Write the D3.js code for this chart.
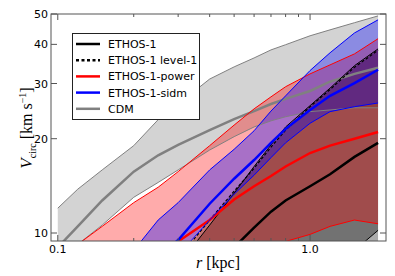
<!DOCTYPE html>
<html>
<head>
<meta charset="utf-8">
<script src="https://cdn.jsdelivr.net/npm/d3@7"></script>
<style>
  body { margin: 0; background: #fff; }
  text { font-family: "DejaVu Sans", sans-serif; }
</style>
</head>
<body>
<svg width="395" height="276"></svg>
<script>
var width = 395;
var height = 276;

// radii (kpc) at which every curve was read
var radius = [0.1, 0.12, 0.15, 0.2, 0.25, 0.3, 0.4, 0.5, 0.6, 0.7, 0.8, 1.0, 1.2, 1.5, 1.86];

// V_circ (km/s): band upper edge, median, band lower edge
var cdmHigh = [12.0, 13.8, 15.9, 19.0, 23.0, 25.8, 31.0, 33.9, 36.2, 38.4, 39.9, 42.6, 44.5, 46.9, 49.3];
var cdmMid  = [9.0, 10.5, 12.7, 15.7, 17.7, 19.1, 21.3, 23.1, 24.5, 25.8, 26.8, 28.4, 30.4, 32.2, 33.7];
var cdmLow  = [8.1, 9.2, 10.6, 13.0, 14.5, 15.9, 18.4, 20.3, 21.8, 22.8, 23.5, 24.4, 24.7, 25.1, 25.1];

var ethosHigh = [4.8, 5.3, 5.9, 6.6, 7.3, 7.9, 10.6, 13.4, 16.3, 19.1, 21.8, 25.5, 29.0, 34.2, 38.7];
var ethosMid  = [3.5, 3.8, 4.2, 4.8, 5.3, 6.0, 7.1, 9.0, 10.4, 11.7, 12.7, 14.1, 15.4, 17.5, 19.4];
var ethosLow  = [2.5, 2.8, 3.1, 3.5, 3.9, 4.3, 5.0, 5.6, 6.0, 6.4, 6.7, 7.0, 7.6, 8.8, 10.2];

var level1Mid = [4.6, 5.1, 5.7, 6.4, 7.6, 8.3, 11.0, 13.6, 16.1, 18.8, 21.3, 25.3, 28.7, 33.8, 38.3];
var level1Low = [2.0, 2.2, 2.4, 2.7, 3.0, 3.3, 3.9, 4.5, 5.0, 5.5, 6.0, 6.8, 7.5, 8.4, 9.0];

var powerHigh = [8.3, 9.2, 10.5, 12.5, 14.0, 15.7, 19.0, 22.1, 24.9, 27.2, 29.3, 32.2, 34.4, 37.3, 41.7];
var powerMid  = [4.4, 5.0, 5.9, 7.2, 8.3, 9.4, 11.0, 12.8, 14.1, 15.2, 16.3, 18.0, 19.0, 20.0, 21.0];
var powerLow  = [4.0, 4.3, 4.7, 5.3, 5.8, 6.3, 7.1, 7.8, 8.4, 8.9, 9.4, 9.9, 10.5, 11.0, 10.7];

var sidmHigh = [6.2, 6.8, 7.6, 8.8, 11.0, 12.5, 15.9, 18.5, 21.2, 24.5, 27.4, 33.0, 37.6, 43.5, 47.9];
var sidmMid  = [5.0, 5.6, 6.4, 7.5, 8.4, 9.5, 12.4, 14.9, 17.1, 19.4, 21.5, 24.7, 27.4, 30.1, 33.2];
var sidmLow  = [4.5, 5.0, 5.6, 6.4, 7.2, 8.5, 11.0, 13.3, 15.3, 17.4, 19.4, 22.4, 24.4, 25.3, 26.0];

var xTickLabels = ['0.1', '1.0'];
var yTickValues = [10, 20, 30, 40, 50];
var legendNames = ['ETHOS-1', 'ETHOS-1 level-1', 'ETHOS-1-power', 'ETHOS-1-sidm', 'CDM'];

var margin = {left: 51, right: 9, top: 14, bottom: 35};

var svg = d3.select('svg');

var x = d3.scaleLog().domain([0.094, 2.0]).range([margin.left, width - margin.right]);
var y = d3.scaleLog().domain([9.43, 50]).range([height - margin.bottom, margin.top]);

svg.append('defs').append('clipPath').attr('id', 'plot-clip')
  .append('rect')
  .attr('x', x.range()[0]).attr('y', y.range()[1])
  .attr('width', x.range()[1] - x.range()[0])
  .attr('height', y.range()[0] - y.range()[1]);

var plot = svg.append('g').attr('clip-path', 'url(#plot-clip)');

function band(lo, hi) {
  return d3.area()
    .x(function(d, i) { return x(radius[i]); })
    .y0(function(d, i) { return y(lo[i]); })
    .y1(function(d, i) { return y(hi[i]); })(radius);
}

function curve(vals) {
  return d3.line()
    .x(function(d, i) { return x(radius[i]); })
    .y(function(d) { return y(d); })(vals);
}

// filled bands
var bands = [
  {lo: cdmLow, hi: cdmHigh, fill: '#808080', op: 0.35},
  {lo: ethosLow, hi: ethosHigh, fill: '#000', op: 0.33},
  {lo: level1Low, hi: level1Mid, fill: '#000', op: 0.33},
  {lo: powerLow, hi: powerHigh, fill: '#ff0000', op: 0.33},
  {lo: sidmLow, hi: sidmHigh, fill: '#0000ff', op: 0.34}
];
bands.forEach(function(b) {
  plot.append('path').attr('d', band(b.lo, b.hi))
    .attr('fill', b.fill).attr('fill-opacity', b.op).attr('stroke', 'none');
});

// band edges and medians
var lines = [
  {v: cdmHigh, c: '#808080', w: 1}, {v: cdmLow, c: '#808080', w: 1}, {v: cdmMid, c: '#808080', w: 2.5},
  {v: ethosHigh, c: '#000', w: 1}, {v: ethosLow, c: '#000', w: 1}, {v: ethosMid, c: '#000', w: 2.5},
  {v: level1Mid, c: '#000', w: 1.2, dash: '3,2'},
  {v: powerHigh, c: '#ff0000', w: 1}, {v: powerLow, c: '#ff0000', w: 1}, {v: powerMid, c: '#ff0000', w: 2.5},
  {v: sidmHigh, c: '#0000ff', w: 1}, {v: sidmLow, c: '#0000ff', w: 1}, {v: sidmMid, c: '#0000ff', w: 2.5}
];
lines.forEach(function(l) {
  plot.append('path').attr('d', curve(l.v))
    .attr('fill', 'none').attr('stroke', l.c).attr('stroke-width', l.w)
    .attr('stroke-dasharray', l.dash || null);
});

// frame
var x0 = x.range()[0], x1 = x.range()[1], y0 = y.range()[0], y1 = y.range()[1];
svg.append('rect').attr('x', x0).attr('y', y1).attr('width', x1 - x0).attr('height', y0 - y1)
  .attr('fill', 'none').attr('stroke', '#555').attr('stroke-width', 1);

// ticks, drawn inwards on all four sides
var ticks = svg.append('g').attr('stroke', '#555').attr('stroke-width', 1);
var xMajor = [0.1, 1];
var xMinor = [0.2, 0.3, 0.4, 0.5, 0.6, 0.7, 0.8, 0.9];
xMajor.forEach(function(v) {
  ticks.append('line').attr('x1', x(v)).attr('x2', x(v)).attr('y1', y0).attr('y2', y0 - 6);
  ticks.append('line').attr('x1', x(v)).attr('x2', x(v)).attr('y1', y1).attr('y2', y1 + 6);
});
xMinor.forEach(function(v) {
  ticks.append('line').attr('x1', x(v)).attr('x2', x(v)).attr('y1', y0).attr('y2', y0 - 3);
  ticks.append('line').attr('x1', x(v)).attr('x2', x(v)).attr('y1', y1).attr('y2', y1 + 3);
});
yTickValues.forEach(function(v) {
  ticks.append('line').attr('x1', x0).attr('x2', x0 + 6).attr('y1', y(v)).attr('y2', y(v));
  ticks.append('line').attr('x1', x1).attr('x2', x1 - 6).attr('y1', y(v)).attr('y2', y(v));
});

// tick labels
xMajor.forEach(function(v, i) {
  svg.append('text').attr('x', x(v)).attr('y', y0 + 12)
    .attr('text-anchor', 'middle').attr('font-size', 11).attr('fill', '#000')
    .text(xTickLabels[i]);
});
yTickValues.forEach(function(v) {
  svg.append('text').attr('x', x0 - 3).attr('y', y(v) + 4)
    .attr('text-anchor', 'end').attr('font-size', 11).attr('fill', '#000')
    .text(v);
});

// axis labels
var xl = svg.append('text').attr('x', 218).attr('y', 268).attr('text-anchor', 'middle')
  .style('font-family', '"Liberation Serif", serif').attr('font-size', 16);
xl.append('tspan').attr('font-style', 'italic').text('r');
xl.append('tspan').text(' [kpc]');

var yl = svg.append('text').attr('transform', 'translate(32,128) rotate(-90)')
  .attr('text-anchor', 'middle')
  .style('font-family', '"Liberation Serif", serif').attr('font-size', 16);
yl.append('tspan').attr('font-style', 'italic').attr('font-size', 17).text('V');
yl.append('tspan').attr('font-size', 10).attr('dy', 4).text('circ');
yl.append('tspan').attr('dy', -4).text(' [km s');
yl.append('tspan').attr('font-size', 10).attr('dy', -6).text('\u22121');
yl.append('tspan').attr('dy', 6).text(']');

// legend
var legendStyle = [
  {c: '#000', w: 2.5}, {c: '#000', w: 2.5, dash: '3,2.5'}, {c: '#ff0000', w: 2.5},
  {c: '#0000ff', w: 2.5}, {c: '#808080', w: 2.5}
];
var legend = svg.append('g');
legend.append('rect').attr('x', 72.5).attr('y', 33.5).attr('width', 127).attr('height', 86)
  .attr('fill', '#fff').attr('stroke', '#222').attr('stroke-width', 1);
legendNames.forEach(function(name, i) {
  var ly = 44 + i * 16.2;
  legend.append('line').attr('x1', 76).attr('x2', 100).attr('y1', ly).attr('y2', ly)
    .attr('stroke', legendStyle[i].c).attr('stroke-width', legendStyle[i].w)
    .attr('stroke-dasharray', legendStyle[i].dash || null);
  legend.append('text').attr('x', 108).attr('y', ly + 4).attr('font-size', 11).attr('fill', '#000')
    .text(name);
});
</script>
</body>
</html>
